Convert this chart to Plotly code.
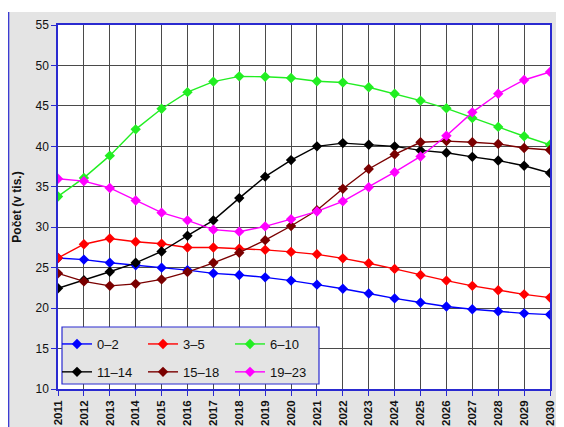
import plotly.graph_objects as go

years = list(range(2011, 2031))
year_labels = [str(y) for y in years]

s0_2 = [26.2, 26.0, 25.6, 25.3, 25.0, 24.7, 24.3, 24.1, 23.8, 23.4, 22.9, 22.4, 21.8, 21.2, 20.7, 20.2, 19.85, 19.6, 19.35, 19.2]
s3_5 = [26.2, 27.9, 28.6, 28.2, 27.95, 27.5, 27.5, 27.35, 27.2, 26.95, 26.65, 26.15, 25.55, 24.85, 24.1, 23.4, 22.75, 22.2, 21.7, 21.3]
s6_10 = [33.8, 36.1, 38.85, 42.1, 44.65, 46.7, 48.0, 48.65, 48.6, 48.45, 48.05, 47.9, 47.3, 46.5, 45.65, 44.7, 43.5, 42.4, 41.25, 40.2]
s11_14 = [22.45, 23.45, 24.5, 25.6, 27.0, 28.95, 30.85, 33.6, 36.25, 38.3, 40.0, 40.4, 40.2, 40.0, 39.5, 39.2, 38.7, 38.25, 37.6, 36.7]
s15_18 = [24.3, 23.3, 22.75, 23.0, 23.55, 24.45, 25.6, 26.85, 28.4, 30.15, 32.1, 34.75, 37.2, 39.0, 40.5, 40.65, 40.5, 40.3, 39.8, 39.55]
s19_23 = [36.0, 35.7, 34.85, 33.3, 31.8, 30.85, 29.7, 29.45, 30.1, 31.0, 31.95, 33.2, 34.95, 36.8, 38.75, 41.3, 44.2, 46.5, 48.2, 49.2]

series_names = ["0\u20132", "3\u20135", "6\u201310", "11\u201314", "15\u201318", "19\u201323"]
series_values = [s0_2, s3_5, s6_10, s11_14, s15_18, s19_23]
colors = ["#0000ff", "#ff0000", "#22ee22", "#000000", "#7a0000", "#ff00ff"]
legend_ids = ["legend", "legend2", "legend3", "legend", "legend2", "legend3"]

# the page places the figure 8px from the top-left corner (default body margin)
OFF = 8
W, H = 564 - OFF, 427 - OFF
# plot area in page pixels: left 58, right 550, top 25, bottom 389
L, R, T, B = 58 - OFF, 564 - 550, 25 - OFF, 427 - 389
PW, PH = W - L - R, H - T - B

def px(xpage):
    return (xpage - OFF - L) / PW

def py(ypage):
    return (H - B - (ypage - OFF)) / PH

FONT = "Liberation Sans, Arial, sans-serif"
BLUE = "#2a2ad0"
GRAY = "#e4e4e4"

fig = go.Figure()
for i, (name, vals) in enumerate(zip(series_names, series_values)):
    fig.add_trace(go.Scatter(
        x=years, y=vals, name=name, mode="lines+markers",
        line=dict(color=colors[i], width=1.4),
        marker=dict(symbol="diamond", size=8, color=colors[i]),
        legend=legend_ids[i], legendgroup="g%d" % i,
    ))

leg_common = dict(
    orientation="v", xanchor="left", yanchor="top",
    bgcolor="rgba(0,0,0,0)", borderwidth=0,
    font=dict(family=FONT, size=13, color="#111111"),
    tracegroupgap=8, itemwidth=30,
)

fig.update_layout(
    width=W, height=H,
    margin=dict(l=L, r=R, t=T, b=B, autoexpand=False),
    paper_bgcolor=GRAY, plot_bgcolor="white",
    showlegend=True,
    legend=dict(x=px(57), y=py(329), **leg_common),
    legend2=dict(x=px(143), y=py(329), **leg_common),
    legend3=dict(x=px(230), y=py(329), **leg_common),
    xaxis=dict(
        range=[2011, 2030], tickvals=years, ticktext=["<b>%s</b>" % t for t in year_labels],
        tickangle=-90, showgrid=True, gridcolor="#4a4a4a", gridwidth=1,
        showline=True, linecolor=BLUE, linewidth=1.5, mirror=True,
        ticks="outside", ticklen=5, tickcolor=BLUE,
        tickfont=dict(family=FONT, size=11.5, color="#111111"),
        zeroline=False, automargin=False,
    ),
    yaxis=dict(
        range=[10, 55], tickvals=[10, 15, 20, 25, 30, 35, 40, 45, 50, 55],
        showgrid=True, gridcolor="#4a4a4a", gridwidth=1,
        showline=True, linecolor=BLUE, linewidth=1.5, mirror=True,
        ticks="outside", ticklen=5, tickcolor=BLUE,
        tickfont=dict(family=FONT, size=12, color="#111111"),
        title=dict(text="<b>Počet (v tis.)</b>", font=dict(family=FONT, size=12, color="#111111"), standoff=11),
        zeroline=False, automargin=False,
    ),
    shapes=[
        # white strip at top of the figure frame
        dict(type="rect", xref="paper", yref="paper", x0=px(0), x1=px(570), y0=py(12), y1=py(0),
             fillcolor="white", line=dict(width=0), layer="above"),
        dict(type="line", xref="paper", yref="paper", x0=px(8.7), x1=px(8.7), y0=py(12), y1=py(430),
             line=dict(color=BLUE, width=1.2), layer="above"),
        # legend box
        dict(type="rect", xref="paper", yref="paper", x0=px(62), x1=px(319), y0=py(384), y1=py(327),
             fillcolor=GRAY, line=dict(color=BLUE, width=1.2), layer="above"),
    ],
)

fig.write_html("out.html")
